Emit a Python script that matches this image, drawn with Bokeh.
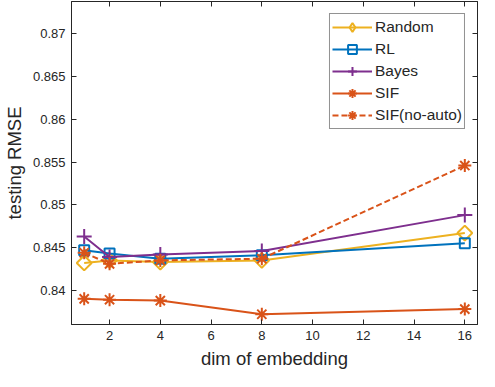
import math
from bokeh.plotting import figure
from bokeh.models import (LinearAxis, FixedTicker, CustomJSTickFormatter, Range1d,
                          Legend, LegendItem)
from bokeh.embed import file_html
from bokeh.resources import INLINE

# ---- data ----
dims = [1, 2, 4, 8, 16]
random_rmse = [0.8432, 0.8435, 0.8433, 0.8435, 0.8467]
rl_rmse = [0.8447, 0.8443, 0.8437, 0.8441, 0.8455]
bayes_rmse = [0.8463, 0.8439, 0.8442, 0.8446, 0.8488]
sif_rmse = [0.8390, 0.8389, 0.8388, 0.8372, 0.8378]
sif_noauto_rmse = [0.8444, 0.8431, 0.8435, 0.8437, 0.8546]

series_names = ["Random", "RL", "Bayes", "SIF", "SIF(no-auto)"]
x_ticks = [2, 4, 6, 8, 10, 12, 14, 16]
y_ticks = [0.84, 0.845, 0.85, 0.855, 0.86, 0.865, 0.87]

# ---- style ----
FONT = "Liberation Sans"
AX = "#262626"
C_RANDOM = "#EDB120"
C_RL = "#0072BD"
C_BAYES = "#7E2F8E"
C_SIF = "#D95319"

p = figure(width=479, height=371, output_backend="svg", toolbar_location=None,
           x_range=Range1d(0.5, 16.5), y_range=Range1d(0.836, 0.8738),
           min_border_left=4, min_border_right=2, min_border_top=1, min_border_bottom=2)
p.background_fill_color = "white"
p.border_fill_color = "white"
p.outline_line_color = AX
p.xgrid.visible = False
p.ygrid.visible = False

fmt = CustomJSTickFormatter(code="return tick.toFixed(3).replace(/0+$/, '');")
blank = CustomJSTickFormatter(code="return '';")

def style_axis(ax, ticks, show_labels=True):
    ax.ticker = FixedTicker(ticks=ticks)
    ax.axis_line_color = AX
    ax.axis_line_width = 1
    ax.major_tick_line_color = AX
    ax.major_tick_in = 5
    ax.major_tick_out = 0
    ax.minor_tick_line_color = None
    ax.major_label_text_font = FONT
    ax.major_label_text_color = AX
    ax.major_label_text_font_size = "13px"
    if show_labels:
        ax.major_label_standoff = 6
    else:
        ax.formatter = blank
        ax.major_label_standoff = 0

style_axis(p.xaxis[0], x_ticks)
style_axis(p.yaxis[0], y_ticks)
p.yaxis[0].formatter = fmt
p.xaxis.axis_label = "dim of embedding"
p.yaxis.axis_label = "testing RMSE"
for ax in (p.xaxis[0], p.yaxis[0]):
    ax.axis_label_text_font = FONT
    ax.axis_label_text_font_size = "18.5px"
    ax.axis_label_text_font_style = "normal"
    ax.axis_label_text_color = AX
    ax.axis_label_standoff = 5

top = LinearAxis()
style_axis(top, x_ticks, show_labels=False)
p.add_layout(top, "above")
right = LinearAxis()
style_axis(right, y_ticks, show_labels=False)
p.add_layout(right, "right")

items = []
specs = [
    (random_rmse, C_RANDOM, "square", 10.5, math.pi / 4, "diamond", "solid"),
    (rl_rmse, C_RL, "square", 10, 0, None, "solid"),
    (bayes_rmse, C_BAYES, "cross", 15, 0, None, "solid"),
    (sif_rmse, C_SIF, "asterisk", 13, 0, None, "solid"),
    (sif_noauto_rmse, C_SIF, "asterisk", 13, 0, None, "6 3"),
]
for name, (vals, col, mk, sz, ang, legmk, dash) in zip(series_names, specs):
    lr = p.line(dims, vals, line_color=col, line_width=2, line_dash=dash)
    sr = p.scatter(dims, vals, marker=mk, size=sz, angle=ang,
                   line_color=col, line_width=2, fill_color=None)
    if legmk is not None:
        # hidden twin, only so that the legend shows the diamond shape
        sr = p.scatter(dims, vals, marker=legmk, size=sz, line_color=col,
                       line_width=2, fill_color=None, visible=False)
    items.append(LegendItem(label=name, renderers=[lr, sr]))

legend = Legend(items=items, location="top_right")
legend.label_text_font = FONT
legend.label_text_font_size = "15.5px"
legend.label_text_color = AX
legend.glyph_width = 40
legend.glyph_height = 22
legend.label_height = 22
legend.label_standoff = 3
legend.spacing = 0
legend.padding = 2
legend.margin = 12
legend.inactive_fill_alpha = 0
legend.border_line_color = AX
legend.border_line_width = 1
legend.background_fill_color = "white"
legend.background_fill_alpha = 1
p.add_layout(legend)

open("out.html", "w").write(file_html(p, INLINE))
